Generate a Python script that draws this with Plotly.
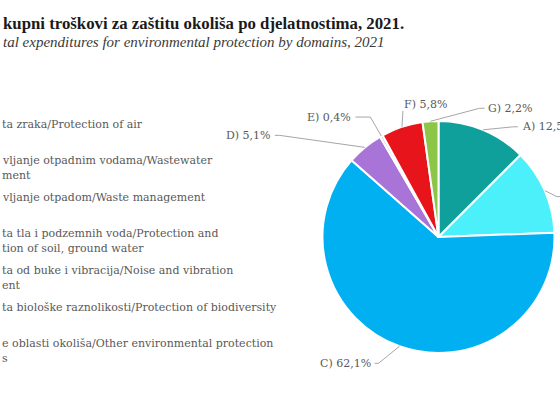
import math
import plotly.graph_objects as go

# ---------------- data ----------------
title_text = "kupni troškovi za zaštitu okoliša po djelatnostima, 2021."
subtitle_text = "tal expenditures for environmental protection by domains, 2021"

codes = ["A", "B", "C", "D", "E", "F", "G"]
shares = [12.5, 11.9, 62.1, 5.1, 0.4, 5.8, 2.2]
share_labels = ["12,5%", "11,9%", "62,1%", "5,1%", "0,4%", "5,8%", "2,2%"]
legend_lines = [
    ["ta zraka/Protection of air"],
    ["vljanje otpadnim vodama/Wastewater", "ment"],
    ["vljanje otpadom/Waste management"],
    ["ta tla i podzemnih voda/Protection and", "tion of soil, ground water"],
    ["ta od buke i vibracija/Noise and vibration", "ent"],
    ["ta biološke raznolikosti/Protection of biodiversity"],
    ["e oblasti okoliša/Other environmental protection", "s"],
]

# ---------------- style / layout ----------------
colors = ["#0FA09C", "#4CF0FB", "#00B0F0", "#A874D8", "#D0D0D0", "#E8141B", "#8DC549"]
W, H = 560, 410
CX, CY, R = 438.5, 237.0, 116.0
TITLE_FONT = "Liberation Serif"
FONT = "DejaVu Serif"
TXT = "#595959"
LINE = "#A6A6A6"

# label leader end offsets relative to slice rim point (px), side of label, tail length
lab_dx = [35, 17, -25, -90, -26, 1, 54]
lab_dy = [-3, 6, 17, -12, -19, -16, -13]
lab_side = ["R", "R", "L", "L", "L", "B", "R"]
lab_tail = [5, 5, 4, 5, 15, 0, 5]

legend_top = 124
legend_step = 36.6
line_h = 15


def px(x):
    return x / W


def py(y):
    return 1 - y / H


fig = go.Figure()
fig.add_trace(go.Pie(
    labels=codes,
    values=shares,
    sort=False,
    direction="clockwise",
    rotation=0,
    marker=dict(colors=colors, line=dict(color="white", width=2)),
    textinfo="none",
    hoverinfo="label+percent",
    showlegend=False,
    domain=dict(x=[px(CX - R), px(CX + R)], y=[py(CY + R), py(CY - R)]),
))

annotations = []
shapes = []

# title / subtitle
annotations.append(dict(text=f"<b>{title_text}</b>", x=px(1), y=py(23), xref="paper", yref="paper",
                        xanchor="left", yanchor="middle", showarrow=False,
                        font=dict(family=TITLE_FONT, size=16.8, color="#1A1A1A")))
annotations.append(dict(text=f"<i>{subtitle_text}</i>", x=px(1), y=py(42), xref="paper", yref="paper",
                        xanchor="left", yanchor="middle", showarrow=False,
                        font=dict(family=TITLE_FONT, size=15, color="#3A3A3A")))

# legend text (left, cropped)
for i, lines in enumerate(legend_lines):
    for j, ln in enumerate(lines):
        y = legend_top + i * legend_step + j * line_h
        annotations.append(dict(text=ln, x=px(0), y=py(y), xref="paper", yref="paper",
                                xanchor="left", yanchor="middle", showarrow=False,
                                font=dict(family=FONT, size=11, color=TXT)))

# data labels with leader lines
total = sum(shares)
cum = 0.0
for i, v in enumerate(shares):
    mid = (cum + v / 2) / total * 2 * math.pi
    cum += v
    rx = CX + R * math.sin(mid)
    ry = CY - R * math.cos(mid)
    ex = rx + lab_dx[i]
    ey = ry + lab_dy[i]
    side = lab_side[i]
    text = f"{codes[i]}) {share_labels[i]}"
    if side == "R":
        elx = ex - lab_tail[i]
        ax, xa, ay, ya = ex + 2, "left", ey, "middle"
    elif side == "L":
        elx = ex + lab_tail[i]
        ax, xa, ay, ya = ex - 2, "right", ey, "middle"
    else:
        elx = ex
        ax, xa, ay, ya = ex - 1, "left", ey - 6, "middle"
    path = f"M {px(rx)} {py(ry)} L {px(elx)} {py(ey)} L {px(ex)} {py(ey)}"
    shapes.append(dict(type="path", path=path, xref="paper", yref="paper",
                       line=dict(color=LINE, width=1)))
    annotations.append(dict(text=text, x=px(ax), y=py(ay), xref="paper", yref="paper",
                            xanchor=xa, yanchor=ya, showarrow=False,
                            font=dict(family=FONT, size=11, color=TXT)))

fig.update_layout(
    width=W, height=H,
    margin=dict(l=0, r=0, t=0, b=0),
    paper_bgcolor="white",
    plot_bgcolor="white",
    annotations=annotations,
    shapes=shapes,
    showlegend=False,
)

fig.write_html("out.html")
